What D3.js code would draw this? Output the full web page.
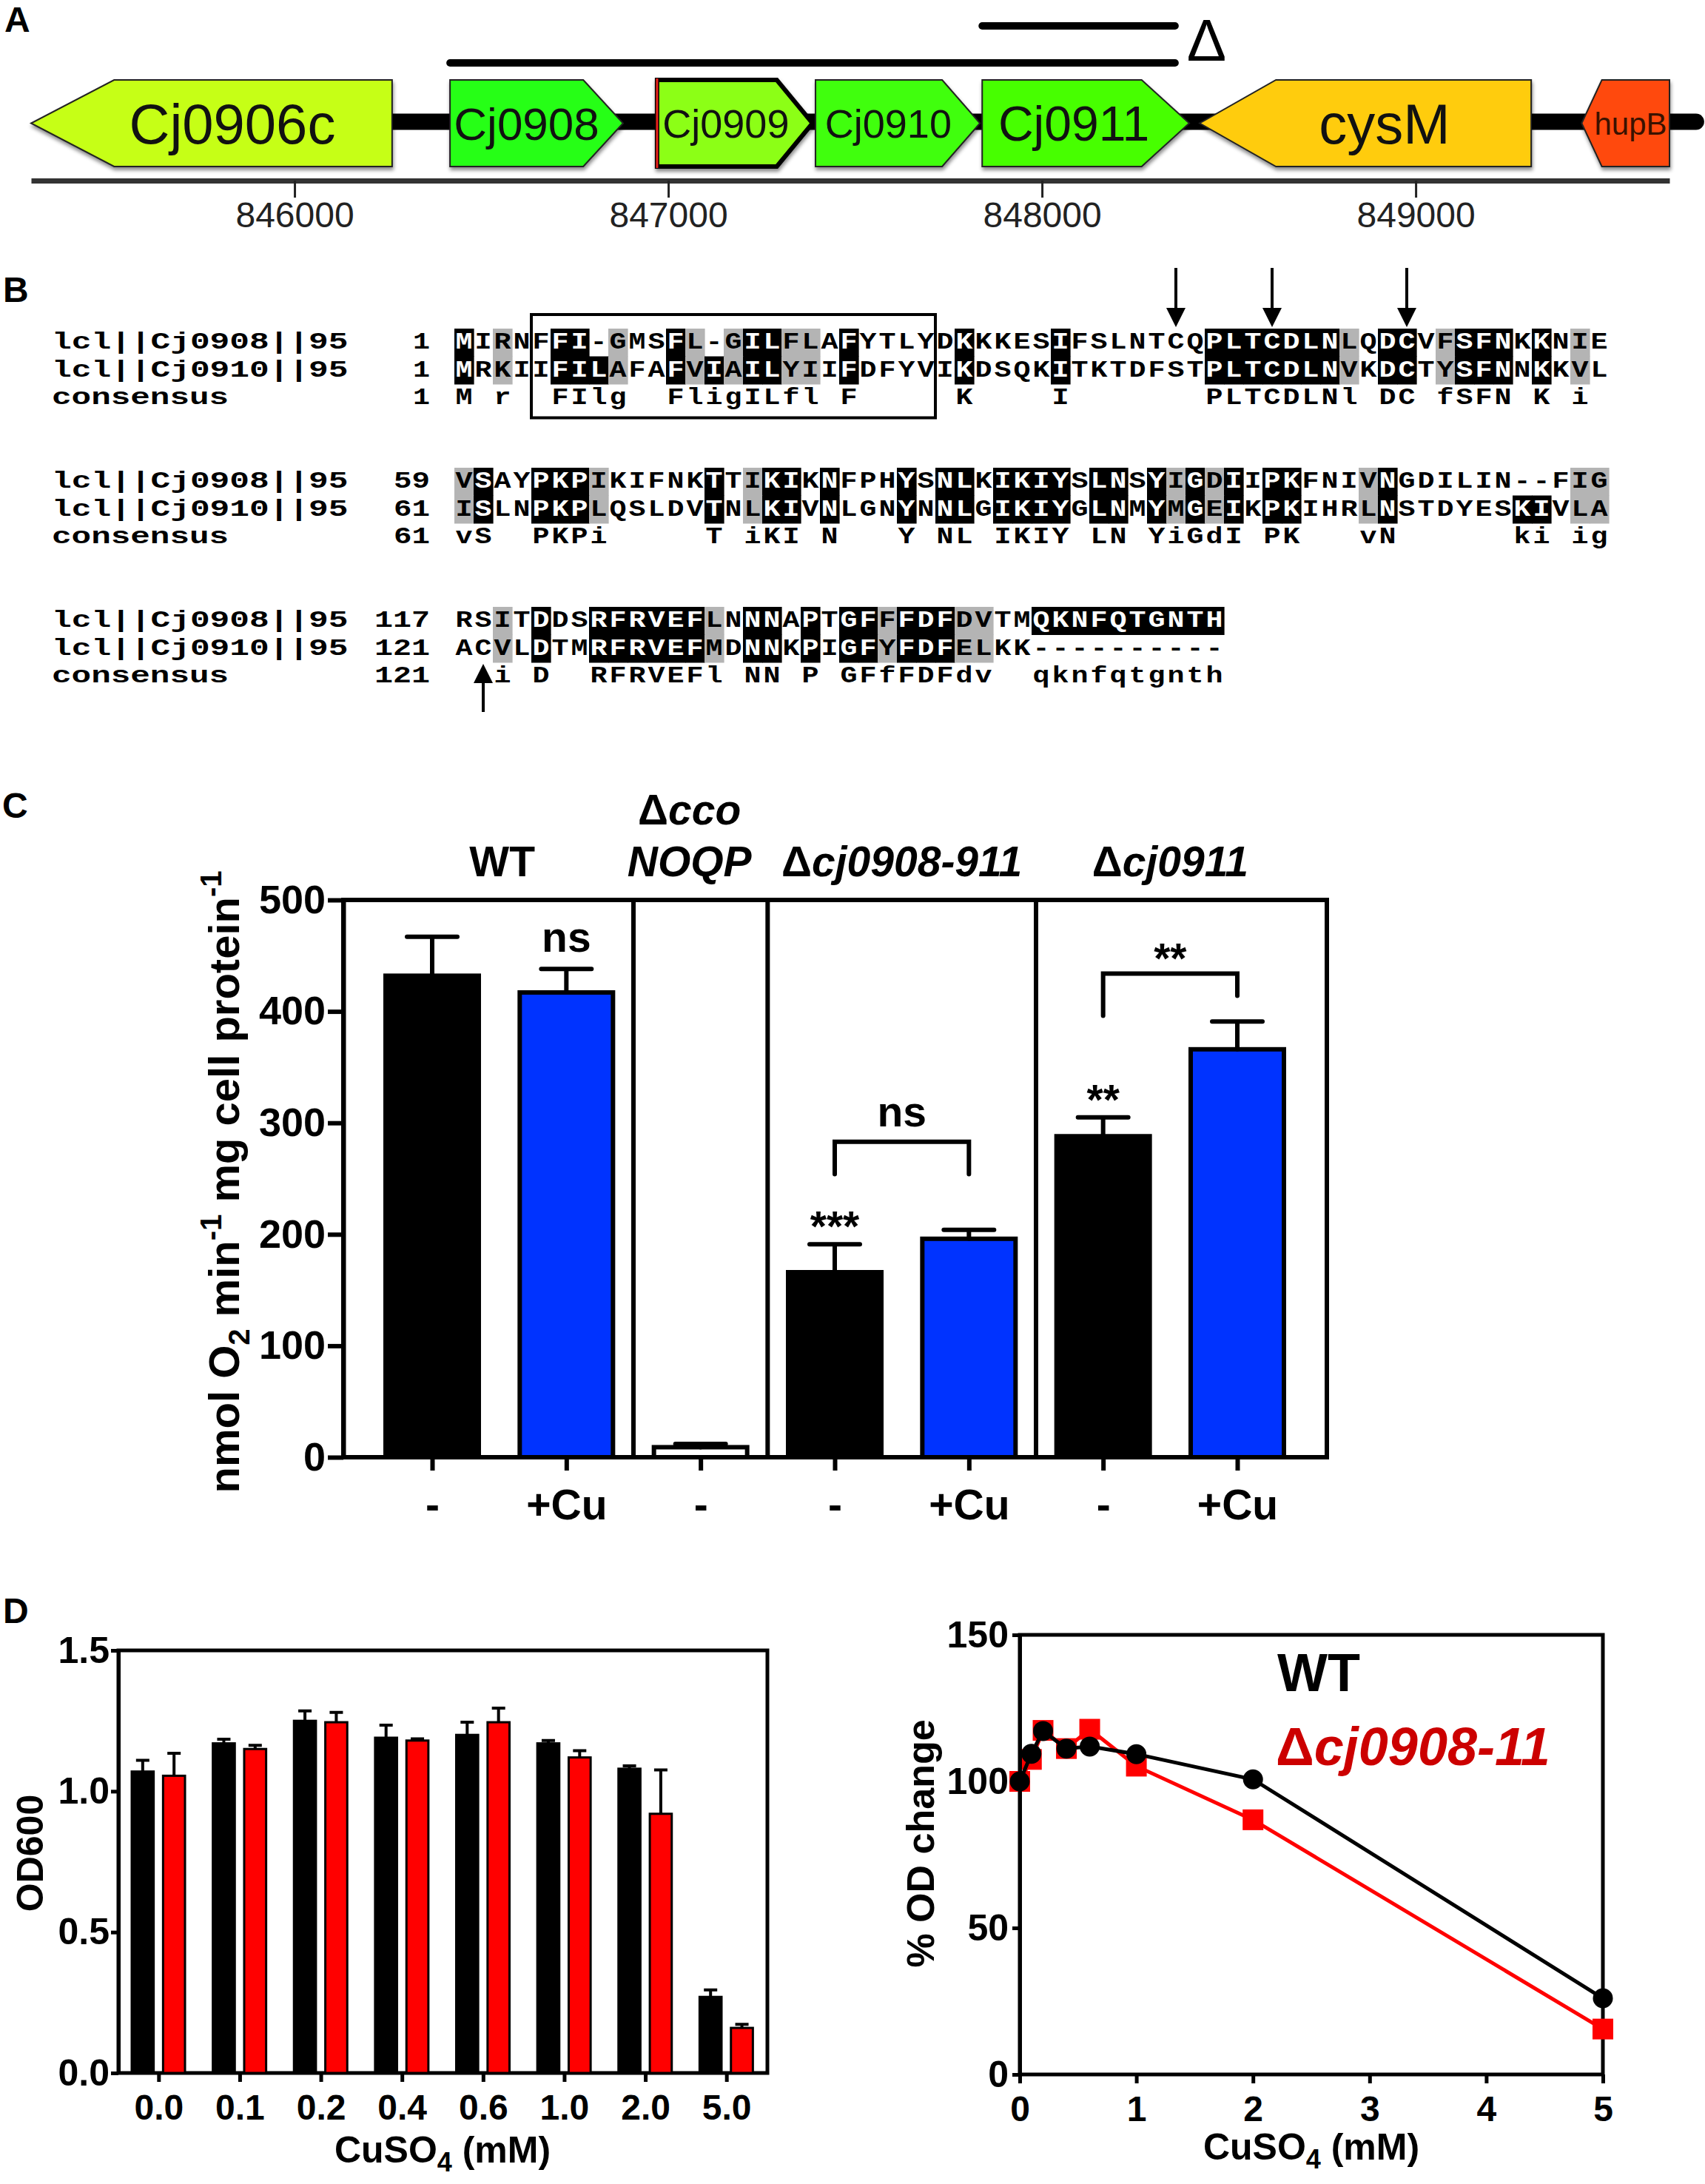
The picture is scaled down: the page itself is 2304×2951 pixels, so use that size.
<!DOCTYPE html>
<html>
<head>
<meta charset="utf-8">
<script src="https://d3js.org/d3.v7.min.js"></script>
<style>
  body { margin: 0; background: #fff; }
  svg { display: block; }
  text { font-family: 'Liberation Sans', Arial, sans-serif; }
  .mono { font-family: 'Liberation Mono', 'Courier New', monospace; font-weight: bold; }
</style>
</head>
<body>
<div id="fig"></div>
<script>
/* global d3 */

const width = 2304,
      height = 2951

// A: gene map (bp)
const geneNames = ['Cj0906c', 'Cj0908', 'Cj0909', 'Cj0910', 'Cj0911', 'cysM', 'hupB']
const geneStart = [845295, 846416, 846970, 847394, 847840, 848422, 849444]
const geneEnd = [846261, 846879, 847386, 847834, 848394, 849309, 849679]
const geneStrand = [-1, 1, 1, 1, 1, -1, -1]
const mapTicks = [846000, 847000, 848000, 849000]
const deletions = [[846416, 848356], [847840, 848356]]

// B: alignment
const alnNames = ['lcl||Cj0908||95', 'lcl||Cj0910||95', 'consensus']
const seqCj0908 = [
  'MIRNFFI-GMSFL-GILFLAFYTLYDKKKESIFSLNTCQPLTCDLNLQDCVFSFNKKNIE',
  'VSAYPKPIKIFNKTTIKIKNFPHYSNLKIKIYSLNSYIGDIIPKFNIVNGDILIN--FIG',
  'RSITDDSRFRVEFLNNNAPTGFFFDFDVTMQKNFQTGNTH'
]
const seqCj0910 = [
  'MRKIIFILAFAFVIAILYIIFDFYVIKDSQKITKTDFSTPLTCDLNVKDCTYSFNNKKVL',
  'ISLNPKPLQSLDVTNLKIVNLGNYNNLGIKIYGLNMYMGEIKPKIHRLNSTDYESKIVLA',
  'ACVLDTMRFRVEFMDNNKPIGFYFDFELKK----------'
]
const seqConsensus = [
  'M r  FIlg  FligILfl F     K    I       PLTCDLNl DC fSFN K i ',
  'vS  PKPi     T iKI N   Y NL IKIY LN YiGdI PK   vN      ki ig',
  '  i D  RFRVEFl NN P GFfFDFdv  qknfqtgnth'
]
const startCj0908 = [1, 59, 117]
const startCj0910 = [1, 61, 121]
const startConsensus = [1, 61, 121]
const boxCols = [5, 25]
const cysDown = [38, 43, 50]
const cysUp = [2]

// C: respiration
const respCond = ['-', '+Cu', '-', '-', '+Cu', '-', '+Cu']
const respStrain = ['WT', 'WT', 'ccoNOQP', 'cj0908-911', 'cj0908-911', 'cj0911', 'cj0911']
const respRate = [432, 417, 9, 166, 196, 288, 366]
const respSem = [35, 21, 3, 25, 8, 17, 25]
const respTicks = [0, 100, 200, 300, 400, 500]
const respStars = ['', 'ns', '', '***', '', '**', '']
const respCompare = [[3, 4, 'ns', 283, 254, 254], [5, 6, '**', 434, 396, 414]]
const strainNames = ['WT', 'ccoNOQP', 'cj0908-911', 'cj0911']
const strainLabels = [['WT'], ['\u0394cco', 'NOQP'], ['\u0394cj0908-911'], ['\u0394cj0911']]

// D: copper sensitivity
const cuLevels = ['0.0', '0.1', '0.2', '0.4', '0.6', '1.0', '2.0', '5.0']
const odWT = [1.07, 1.17, 1.25, 1.19, 1.20, 1.17, 1.08, 0.27]
const odWTSem = [0.04, 0.015, 0.035, 0.045, 0.045, 0.01, 0.01, 0.025]
const odMut = [1.055, 1.15, 1.245, 1.18, 1.245, 1.12, 0.92, 0.16]
const odMutSem = [0.08, 0.013, 0.035, 0.006, 0.05, 0.024, 0.156, 0.013]
const odTicks = [0, 0.5, 1.0, 1.5]
const cuMM = [0, 0.1, 0.2, 0.4, 0.6, 1, 2, 5]
const pctWT = [100, 109.4, 117.2, 111.2, 111.9, 109.3, 100.7, 26]
const pctMut = [100, 107.5, 117.4, 111.2, 117.8, 105.2, 86.9, 15.5]
const pctTicks = [0, 50, 100, 150]
const cuTicks = [0, 1, 2, 3, 4, 5]

const sans = "'Liberation Sans', Arial, sans-serif"

let svg = d3.select('#fig')
  .append('svg')
  .attr('width', width)
  .attr('height', height)

svg.append('rect').attr('width', width).attr('height', height).attr('fill', '#fff')

svg.append('defs')
  .append('filter').attr('id', 'shadow')
  .attr('x', '-5%').attr('y', '-10%').attr('width', '115%').attr('height', '130%')
  .append('feDropShadow')
  .attr('dx', 1).attr('dy', 4).attr('stdDeviation', 2.5)
  .attr('flood-color', '#000').attr('flood-opacity', 0.45)

// panel letters
const panelLetters = [['A', 6, 43], ['B', 4, 408], ['C', 3, 1105], ['D', 4, 2193]]
svg.selectAll('text.panel')
  .data(panelLetters)
  .enter()
  .append('text')
  .attr('class', 'panel')
  .attr('x', d => d[1])
  .attr('y', d => d[2])
  .attr('font-size', 48)
  .attr('font-weight', 'bold')
  .text(d => d[0])

let styleAxis = (g, fs, w) => {
  g.attr('font-size', fs).attr('font-weight', 'bold').attr('font-family', sans)
  g.selectAll('text').attr('fill', '#000')
  g.selectAll('.tick line').attr('stroke', '#000').attr('stroke-width', w)
  g.select('.domain').attr('stroke', '#000').attr('stroke-width', w)
}

// ---------------- A ----------------
const geneFill = {
  Cj0906c: '#c6ff12', Cj0908: '#26ff12', Cj0909: '#8cff14',
  Cj0910: '#40ff0c', Cj0911: '#46ff06', cysM: '#ffcc10', hupB: '#ff4a0a'
}
const geneFont = { Cj0906c: 76, Cj0908: 62, Cj0909: 54, Cj0910: 54, Cj0911: 66, cysM: 76, hupB: 42 }
const geneTop = 108, geneBot = 225, geneMid = (geneTop + geneBot) / 2
const mapEnd = 849750

let mapX = d3.scaleLinear()
  .domain([geneStart[0], geneEnd[geneEnd.length - 1]])
  .range([42, 2256])

let gA = svg.append('g')

gA.append('line')
  .attr('x1', mapX(geneStart[0]) + 40).attr('x2', mapX(mapEnd))
  .attr('y1', geneMid - 2).attr('y2', geneMid - 2)
  .attr('stroke', '#000').attr('stroke-width', 22).attr('stroke-linecap', 'round')

let genePoints = i => {
  let x0 = mapX(geneStart[i]), x1 = mapX(geneEnd[i]), head = 0.23 * (x1 - x0)
  if (geneStrand[i] > 0) {
    return [[x0, geneTop], [x1 - head, geneTop], [x1, geneMid], [x1 - head, geneBot], [x0, geneBot]]
  }
  return [[x1, geneTop], [x0 + head, geneTop], [x0, geneMid], [x0 + head, geneBot], [x1, geneBot]]
}

let genes = gA.selectAll('g.gene')
  .data(geneNames)
  .enter()
  .append('g')
  .attr('class', 'gene')

genes.append('polygon')
  .attr('points', (d, i) => genePoints(i).join(' '))
  .attr('fill', d => geneFill[d])
  .attr('stroke', d => d === 'Cj0909' ? '#000' : '#222')
  .attr('stroke-width', d => d === 'Cj0909' ? 6 : 2)
  .attr('stroke-linejoin', 'miter')
  .attr('filter', 'url(#shadow)')

genes.filter(d => d === 'Cj0909')
  .append('line')
  .attr('x1', d => mapX(geneStart[geneNames.indexOf(d)]))
  .attr('x2', d => mapX(geneStart[geneNames.indexOf(d)]))
  .attr('y1', geneTop - 2).attr('y2', geneBot + 2)
  .attr('stroke', '#e8201a').attr('stroke-width', 3)

genes.append('text')
  .attr('x', (d, i) => {
    let x0 = mapX(geneStart[i]), x1 = mapX(geneEnd[i]), head = 0.23 * (x1 - x0)
    return (x0 + x1) / 2 - geneStrand[i] * head / 4
  })
  .attr('y', d => geneMid + 0.36 * geneFont[d])
  .attr('text-anchor', 'middle')
  .attr('font-size', d => geneFont[d])
  .attr('fill', d => d === 'hupB' ? '#3a1200' : '#111')
  .text(d => d)

let ruler = gA.append('g')
  .attr('transform', 'translate(0,244)')
  .call(d3.axisBottom(mapX)
    .tickValues(mapTicks)
    .tickFormat(d3.format('d'))
    .tickSize(23)
    .tickSizeOuter(0)
    .tickPadding(6))
ruler.attr('font-size', 48).attr('font-family', sans)
ruler.select('.domain').attr('stroke', '#333').attr('stroke-width', 7)
ruler.selectAll('.tick line').attr('stroke', '#222').attr('stroke-width', 3)
ruler.selectAll('text').attr('fill', '#222')

gA.selectAll('line.del')
  .data(deletions)
  .enter()
  .append('line')
  .attr('class', 'del')
  .attr('x1', d => mapX(d[0]))
  .attr('x2', d => mapX(d[1]))
  .attr('y1', (d, i) => i ? 35 : 85)
  .attr('y2', (d, i) => i ? 35 : 85)
  .attr('stroke', '#000')
  .attr('stroke-width', 10)
  .attr('stroke-linecap', 'round')

gA.append('text')
  .attr('x', mapX(deletions[0][1]) + 16)
  .attr('y', 82)
  .attr('font-family', "'Liberation Serif', 'Times New Roman', serif")
  .attr('font-size', 80)
  .text('\u0394')

// ---------------- B ----------------
let colX = d3.scaleLinear().domain([1, 60]).range([627, 2161])
const colW = colX(2) - colX(1)
const lineH = 37.5
const monoSize = 32
let blockTop = b => 444 + b * 188

let shadeOf = (ch, other, c) => {
  if (ch === '-' || c === ' ' || c === undefined) return null
  if (c === c.toUpperCase()) return 'id'
  return other === '-' ? 'id' : 'sim'
}

let monoText = (g, x, y, s, cell) => g.append('text')
  .attr('class', 'mono')
  .attr('x', x)
  .attr('y', y)
  .attr('dominant-baseline', 'central')
  .attr('font-size', monoSize)
  .attr('textLength', s.length * cell - 3)
  .attr('lengthAdjust', 'spacingAndGlyphs')
  .text(s)

let gB = svg.append('g')

seqCj0908.forEach((s1, b) => {
  let rows = [s1, seqCj0910[b]]
  let cons = seqConsensus[b].padEnd(s1.length, ' ')
  let top = blockTop(b)

  rows.forEach((s, k) => {
    let other = rows[1 - k]
    let cells = s.split('').map((ch, j) => ({ ch: ch, col: j + 1, sh: shadeOf(ch, other[j], cons[j]) }))

    gB.selectAll(null)
      .data(cells.filter(c => c.sh))
      .enter()
      .append('rect')
      .attr('x', c => colX(c.col) - colW / 2)
      .attr('y', top + k * lineH)
      .attr('width', colW + 0.6)
      .attr('height', lineH + 0.5)
      .attr('fill', c => c.sh === 'id' ? '#000' : '#b4b4b4')

    gB.selectAll(null)
      .data(cells)
      .enter()
      .append('text')
      .attr('class', 'mono')
      .attr('x', c => colX(c.col))
      .attr('y', top + k * lineH + lineH / 2)
      .attr('text-anchor', 'middle')
      .attr('dominant-baseline', 'central')
      .attr('font-size', monoSize)
      .attr('textLength', colW - 3)
      .attr('lengthAdjust', 'spacingAndGlyphs')
      .attr('fill', c => c.sh === 'id' ? '#fff' : '#000')
      .text(c => c.ch)
  })

  gB.selectAll(null)
    .data(cons.split('').map((ch, j) => ({ ch: ch, col: j + 1 })).filter(c => c.ch !== ' '))
    .enter()
    .append('text')
    .attr('class', 'mono')
    .attr('x', c => colX(c.col))
    .attr('y', top + 2 * lineH + lineH / 2)
    .attr('text-anchor', 'middle')
    .attr('dominant-baseline', 'central')
    .attr('font-size', monoSize)
    .attr('textLength', colW - 3)
    .attr('lengthAdjust', 'spacingAndGlyphs')
    .text(c => c.ch)

  let starts = [startCj0908[b], startCj0910[b], startConsensus[b]]
  alnNames.forEach((name, k) => {
    let yc = top + k * lineH + lineH / 2
    monoText(gB, 70, yc, name, 26.9)
    let num = String(starts[k])
    monoText(gB, 584 - num.length * 26, yc, num, 26)
  })
})

gB.append('rect')
  .attr('x', colX(boxCols[0]) - colW / 2)
  .attr('y', blockTop(0) - 19)
  .attr('width', (boxCols[1] - boxCols[0] + 1) * colW)
  .attr('height', 3 * lineH + 27)
  .attr('fill', 'none')
  .attr('stroke', '#000')
  .attr('stroke-width', 4)

cysDown.forEach(c => {
  let cx = colX(c)
  gB.append('line').attr('x1', cx).attr('x2', cx).attr('y1', 362).attr('y2', 420)
    .attr('stroke', '#000').attr('stroke-width', 4)
  gB.append('polygon').attr('points', [[cx - 13, 416], [cx + 13, 416], [cx, 442]].join(' '))
})
cysUp.forEach(c => {
  let cx = colX(c)
  gB.append('line').attr('x1', cx).attr('x2', cx).attr('y1', 918).attr('y2', 962)
    .attr('stroke', '#000').attr('stroke-width', 4)
  gB.append('polygon').attr('points', [[cx - 13, 923], [cx + 13, 923], [cx, 897]].join(' '))
})

// ---------------- C ----------------
const plotC = { left: 464, right: 1793, top: 1216, bottom: 1969 }
const strainLabelDx = [4, -15, 0, 0]

let rateY = d3.scaleLinear().domain([0, 500]).range([plotC.bottom, plotC.top])
let condX = d3.scalePoint().domain(d3.range(respRate.length)).range([584, 1672])

let gC = svg.append('g')

gC.append('rect')
  .attr('x', plotC.left).attr('y', plotC.top)
  .attr('width', plotC.right - plotC.left).attr('height', plotC.bottom - plotC.top)
  .attr('fill', 'none').attr('stroke', '#000').attr('stroke-width', 6)

respStrain.forEach((s, i) => {
  if (i > 0 && s !== respStrain[i - 1]) {
    let xm = (condX(i - 1) + condX(i)) / 2
    gC.append('line').attr('x1', xm).attr('x2', xm)
      .attr('y1', plotC.top - 3).attr('y2', plotC.bottom)
      .attr('stroke', '#000').attr('stroke-width', 6)
  }
})

gC.selectAll('rect.bar')
  .data(respRate)
  .enter()
  .append('rect')
  .attr('class', 'bar')
  .attr('x', (d, i) => condX(i) - 63)
  .attr('y', d => rateY(d))
  .attr('width', 126)
  .attr('height', d => rateY(0) - rateY(d))
  .attr('fill', (d, i) => respStrain[i] === 'ccoNOQP' ? '#fff' : respCond[i] === '+Cu' ? '#0033ff' : '#000')
  .attr('stroke', '#000')
  .attr('stroke-width', 6)

gC.selectAll('path.err')
  .data(respRate)
  .enter()
  .append('path')
  .attr('class', 'err')
  .attr('d', (d, i) => {
    let x = condX(i), y0 = rateY(d), y1 = rateY(d + respSem[i])
    return `M${x},${y0}V${y1}M${x - 34},${y1}H${x + 34}`
  })
  .attr('fill', 'none')
  .attr('stroke', '#000')
  .attr('stroke-width', 6)
  .attr('stroke-linecap', 'round')

gC.selectAll('text.sig')
  .data(respStars)
  .enter()
  .append('text')
  .attr('class', 'sig')
  .attr('x', (d, i) => condX(i))
  .attr('y', (d, i) => rateY(respRate[i] + respSem[i]) - (d.startsWith('*') ? 4 : 23))
  .attr('text-anchor', 'middle')
  .attr('font-size', 57)
  .attr('font-weight', 'bold')
  .text(d => d)

respCompare.forEach(c => {
  let xa = condX(c[0]), xb = condX(c[1])
  gC.append('path')
    .attr('d', `M${xa},${rateY(c[4])}V${rateY(c[3])}H${xb}V${rateY(c[5])}`)
    .attr('fill', 'none').attr('stroke', '#000').attr('stroke-width', 6)
    .attr('stroke-linecap', 'round').attr('stroke-linejoin', 'miter')
  gC.append('text')
    .attr('x', (xa + xb) / 2)
    .attr('y', rateY(c[3]) - (c[2].startsWith('*') ? 0 : 21))
    .attr('text-anchor', 'middle')
    .attr('font-size', 57)
    .attr('font-weight', 'bold')
    .text(c[2])
})

let yAxisC = gC.append('g')
  .attr('transform', `translate(${plotC.left},0)`)
  .call(d3.axisLeft(rateY).tickValues(respTicks).tickSize(21).tickSizeOuter(0).tickPadding(3))
styleAxis(yAxisC, 54, 6)

let xAxisC = gC.append('g')
  .attr('transform', `translate(0,${plotC.bottom})`)
  .call(d3.axisBottom(condX).tickSize(18).tickPadding(26).tickFormat(i => respCond[i]))
styleAxis(xAxisC, 57, 6)
xAxisC.select('.domain').remove()

let yTitleC = gC.append('text')
  .attr('transform', 'translate(323,1597) rotate(-90)')
  .attr('text-anchor', 'middle')
  .attr('font-size', 58)
  .attr('font-weight', 'bold')
yTitleC.append('tspan').text('nmol O')
yTitleC.append('tspan').attr('dy', 14).attr('font-size', 40).text('2')
yTitleC.append('tspan').attr('dy', -14).text(' min')
yTitleC.append('tspan').attr('dy', -24).attr('font-size', 40).text('-1')
yTitleC.append('tspan').attr('dy', 24).text(' mg cell protein')
yTitleC.append('tspan').attr('dy', -24).attr('font-size', 40).text('-1')

strainNames.forEach((s, k) => {
  let idx = d3.range(respStrain.length).filter(i => respStrain[i] === s)
  let cx = d3.mean(idx, i => condX(i)) + strainLabelDx[k]
  let lines = strainLabels[k]
  lines.forEach((ln, j) => {
    let t = gC.append('text')
      .attr('x', cx)
      .attr('y', 1184 - (lines.length - 1 - j) * 70)
      .attr('text-anchor', 'middle')
      .attr('font-size', 57)
      .attr('font-weight', 'bold')
    if (ln.startsWith('\u0394')) {
      t.append('tspan').text('\u0394')
      t.append('tspan').attr('font-style', 'italic').text(ln.slice(1))
    } else {
      t.append('tspan').attr('font-style', s === 'WT' ? 'normal' : 'italic').text(ln)
    }
  })
})

// ---------------- D left ----------------
const plotD1 = { left: 160, right: 1037, top: 2230, bottom: 2801 }

let odX = d3.scaleBand().domain(cuLevels).range([plotD1.left, plotD1.right])
let odSub = d3.scaleBand().domain(['wt', 'mut']).range([18, 90]).paddingInner(0.3)
let odY = d3.scaleLinear().domain([0, 1.5]).range([plotD1.bottom, plotD1.top])

let gD1 = svg.append('g')

gD1.append('rect')
  .attr('x', plotD1.left).attr('y', plotD1.top)
  .attr('width', plotD1.right - plotD1.left).attr('height', plotD1.bottom - plotD1.top)
  .attr('fill', 'none').attr('stroke', '#000').attr('stroke-width', 5)

let odSeries = [['wt', odWT, odWTSem, '#000'], ['mut', odMut, odMutSem, '#ff0000']]
odSeries.forEach(ser => {
  gD1.selectAll(null)
    .data(ser[1])
    .enter()
    .append('path')
    .attr('d', (d, i) => {
      let x = odX(cuLevels[i]) + odSub(ser[0]) + odSub.bandwidth() / 2
      let y1 = odY(d + ser[2][i])
      return `M${x},${odY(d)}V${y1}M${x - 9},${y1}H${x + 9}`
    })
    .attr('stroke', '#000')
    .attr('stroke-width', 4)
    .attr('fill', 'none')

  gD1.selectAll(null)
    .data(ser[1])
    .enter()
    .append('rect')
    .attr('x', (d, i) => odX(cuLevels[i]) + odSub(ser[0]))
    .attr('y', d => odY(d))
    .attr('width', odSub.bandwidth())
    .attr('height', d => odY(0) - odY(d))
    .attr('fill', ser[3])
    .attr('stroke', '#000')
    .attr('stroke-width', 3)
})

let yAxisD1 = gD1.append('g')
  .attr('transform', `translate(${plotD1.left},0)`)
  .call(d3.axisLeft(odY).tickValues(odTicks).tickFormat(d3.format('.1f')).tickSize(10).tickSizeOuter(0).tickPadding(2))
styleAxis(yAxisD1, 50, 5)

let xAxisD1 = gD1.append('g')
  .attr('transform', `translate(0,${plotD1.bottom})`)
  .call(d3.axisBottom(odX).tickSize(12).tickSizeOuter(0).tickPadding(17))
styleAxis(xAxisD1, 48, 5)
xAxisD1.select('.domain').remove()

gD1.append('text')
  .attr('transform', 'translate(58,2504) rotate(-90)')
  .attr('text-anchor', 'middle')
  .attr('font-size', 50)
  .attr('font-weight', 'bold')
  .text('OD600')

let xTitle = (g, cx, y) => {
  let t = g.append('text')
    .attr('x', cx).attr('y', y)
    .attr('text-anchor', 'middle')
    .attr('font-size', 50)
    .attr('font-weight', 'bold')
  t.append('tspan').text('CuSO')
  t.append('tspan').attr('dy', 12).attr('font-size', 36).text('4')
  t.append('tspan').attr('dy', -12).text(' (mM)')
}
xTitle(gD1, 598, 2922)

// ---------------- D right ----------------
const plotD2 = { left: 1378, right: 2166, top: 2209, bottom: 2803 }

let pctX = d3.scaleLinear().domain([0, 5]).range([plotD2.left, plotD2.right])
let pctY = d3.scaleLinear().domain([0, 150]).range([plotD2.bottom, plotD2.top])

let gD2 = svg.append('g')

gD2.append('rect')
  .attr('x', plotD2.left).attr('y', plotD2.top)
  .attr('width', plotD2.right - plotD2.left).attr('height', plotD2.bottom - plotD2.top)
  .attr('fill', 'none').attr('stroke', '#000').attr('stroke-width', 5)

let pctLine = d3.line()
  .x((d, i) => pctX(cuMM[i]))
  .y(d => pctY(d))

gD2.append('path')
  .attr('d', pctLine(pctMut))
  .attr('fill', 'none')
  .attr('stroke', '#ff0000')
  .attr('stroke-width', 5)

gD2.selectAll('path.sq')
  .data(pctMut)
  .enter()
  .append('path')
  .attr('class', 'sq')
  .attr('transform', (d, i) => `translate(${pctX(cuMM[i])},${pctY(d)})`)
  .attr('d', d3.symbol().type(d3.symbolSquare).size(784))
  .attr('fill', '#ff0000')

gD2.append('path')
  .attr('d', pctLine(pctWT))
  .attr('fill', 'none')
  .attr('stroke', '#000')
  .attr('stroke-width', 5)

gD2.selectAll('circle.dot')
  .data(pctWT)
  .enter()
  .append('circle')
  .attr('class', 'dot')
  .attr('cx', (d, i) => pctX(cuMM[i]))
  .attr('cy', d => pctY(d))
  .attr('r', 13.5)
  .attr('fill', '#000')

let yAxisD2 = gD2.append('g')
  .attr('transform', `translate(${plotD2.left},0)`)
  .call(d3.axisLeft(pctY).tickValues(pctTicks).tickSize(10).tickSizeOuter(0).tickPadding(5))
styleAxis(yAxisD2, 50, 5)

let xAxisD2 = gD2.append('g')
  .attr('transform', `translate(0,${plotD2.bottom})`)
  .call(d3.axisBottom(pctX).tickValues(cuTicks).tickFormat(d3.format('d')).tickSize(12).tickSizeOuter(0).tickPadding(17))
styleAxis(xAxisD2, 48, 5)
xAxisD2.select('.domain').remove()

gD2.append('text')
  .attr('transform', 'translate(1262,2491) rotate(-90)')
  .attr('text-anchor', 'middle')
  .attr('font-size', 52)
  .attr('font-weight', 'bold')
  .text('% OD change')

xTitle(gD2, 1772, 2918)

gD2.append('text')
  .attr('x', 1726).attr('y', 2285)
  .attr('font-size', 72)
  .attr('font-weight', 'bold')
  .text('WT')

let mutLegend = gD2.append('text')
  .attr('x', 1724).attr('y', 2385)
  .attr('font-size', 72)
  .attr('font-weight', 'bold')
  .attr('fill', '#cc0000')
mutLegend.append('tspan').text('\u0394')
mutLegend.append('tspan').attr('font-style', 'italic').text('cj0908-11')
</script>
</body>
</html>
